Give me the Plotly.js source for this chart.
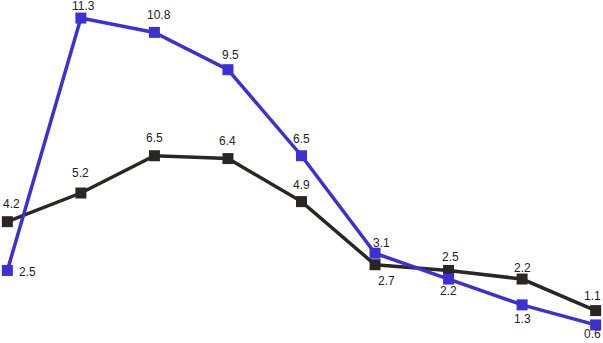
<!DOCTYPE html>
<html>
<head>
<meta charset="utf-8">
<script src="https://cdn.plot.ly/plotly-3.0.1.min.js"></script>
<style>html,body{margin:0;padding:0;background:#fff;}#chart{width:603px;height:343px;}</style>
</head>
<body>
<div id="chart"></div>
<script>
const categories = [0, 1, 2, 3, 4, 5, 6, 7, 8];
const blueValues = [2.5, 11.3, 10.8, 9.5, 6.5, 3.1, 2.2, 1.3, 0.6];
const blackValues = [4.2, 5.2, 6.5, 6.4, 4.9, 2.7, 2.5, 2.2, 1.1];
const blueLabels = ['2.5', '11.3', '10.8', '9.5', '6.5', '3.1', '2.2', '1.3', '0.6'];
const blackLabels = ['4.2', '5.2', '6.5', '6.4', '4.9', '2.7', '2.5', '2.2', '1.1'];

// label offsets in pixels (dx, dy; positive dy = downward)
const blueOffsets = [[20,2],[3,-12],[5,-17],[3,-15],[0,-17],[6,-10],[0,12],[0,14],[-3,9]];
const blackOffsets = [[4,-18],[0,-20],[0,-18],[0,-18],[0,-17],[11,16],[2,-13],[0,-11],[-3,-15]];

const BLUE = '#3b2fd6';
const BLACK = '#2b2624';

const blackTrace = {
  x: categories, y: blackValues, type: 'scatter', mode: 'lines+markers',
  line: {color: BLACK, width: 3.5},
  marker: {symbol: 'square', size: 11, color: BLACK},
  hoverinfo: 'none'
};
const blueTrace = {
  x: categories, y: blueValues, type: 'scatter', mode: 'lines+markers',
  line: {color: BLUE, width: 3.5},
  marker: {symbol: 'square', size: 11, color: BLUE},
  hoverinfo: 'none'
};

const font = {family: 'Liberation Sans, Arial, sans-serif', size: 12, color: '#222'};
const annotations = [];
function addLabels(values, labels, offsets) {
  values.forEach((v, i) => {
    annotations.push({
      x: categories[i], y: v, text: labels[i], showarrow: false,
      xanchor: 'center', yanchor: 'middle', borderpad: 0,
      xshift: offsets[i][0], yshift: -offsets[i][1],
      font: font
    });
  });
}
addLabels(blackValues, blackLabels, blackOffsets);
addLabels(blueValues, blueLabels, blueOffsets);

const layout = {
  width: 603, height: 343,
  margin: {l: 0, r: 0, t: 0, b: 0},
  paper_bgcolor: '#ffffff', plot_bgcolor: '#ffffff',
  showlegend: false,
  annotations: annotations,
  xaxis: {range: [-0.1, 8.1], visible: false, fixedrange: true},
  yaxis: {range: [-0.03, 11.93], visible: false, fixedrange: true}
};

Plotly.newPlot('chart', [blackTrace, blueTrace], layout, {staticPlot: true, displayModeBar: false});
</script>
</body>
</html>
